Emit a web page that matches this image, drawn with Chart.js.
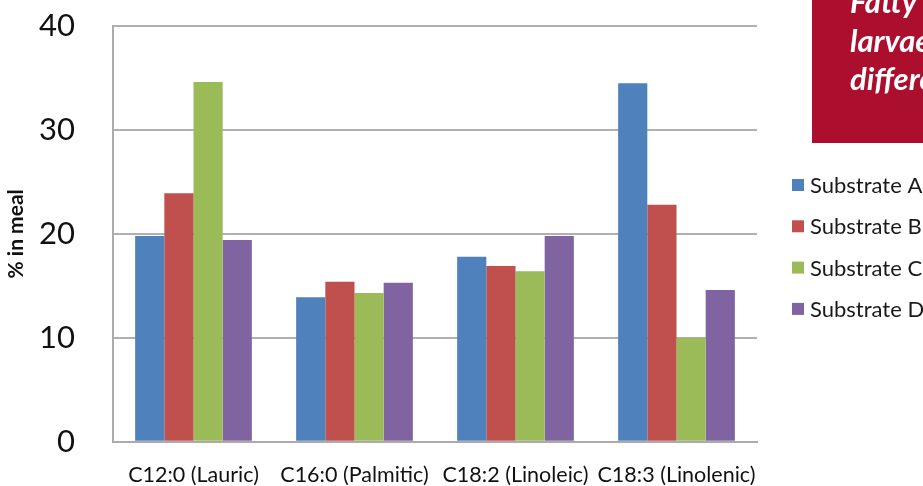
<!DOCTYPE html>
<html>
<head>
<meta charset="utf-8">
<script src="https://cdn.jsdelivr.net/npm/chart.js@4.4.0/dist/chart.umd.min.js"></script>
<style>
  html, body { margin: 0; padding: 0; background: #ffffff; }
  #wrap { width: 923px; height: 486px; position: relative; }
</style>
</head>
<body>
<div id="wrap"><canvas id="c" width="923" height="486"></canvas></div>
<script>
// Fatty acid categories and share in meal (%) per substrate
const categories = ['C12:0 (Lauric)', 'C16:0 (Palmitic)', 'C18:2 (Linoleic)', 'C18:3 (Linolenic)'];
const substrateA = [19.8, 13.9, 17.8, 34.5];
const substrateB = [23.9, 15.4, 16.9, 22.8];
const substrateC = [34.6, 14.3, 16.4, 10.0];
const substrateD = [19.4, 15.3, 19.8, 14.6];
const seriesNames = ['Substrate A', 'Substrate B', 'Substrate C', 'Substrate D'];
const yTicks = [0, 10, 20, 30, 40];
const boxLines = ['Fatty', 'larvae', 'different'];

const colors = ['#4F81BD', '#C0504D', '#9BBB59', '#8064A2'];
const FONT = 'Lato, "Open Sans", sans-serif';

const canvas = document.getElementById('c');
const ctx2d = canvas.getContext('2d');
// plain glyphs, no "ti"/"fi" ligatures
if ('textRendering' in ctx2d) ctx2d.textRendering = 'optimizeSpeed';

// Red caption panel and the series key on the right side
const sidePanel = {
  id: 'sidePanel',
  afterDraw(chart) {
    const ctx = chart.ctx;
    ctx.save();
    ctx.fillStyle = '#AC0E2E';
    ctx.fillRect(812, 0, 111, 143);
    ctx.fillStyle = '#ffffff';
    ctx.font = 'italic bold 31px ' + FONT;
    ctx.textAlign = 'left';
    ctx.textBaseline = 'alphabetic';
    boxLines.forEach((t, i) => ctx.fillText(t, 850, 13 + i * 38.5));

    ctx.font = '22px ' + FONT;
    ctx.textBaseline = 'middle';
    chart.data.datasets.forEach((ds, i) => {
      const y = 185 + i * 41.3;
      ctx.fillStyle = ds.backgroundColor;
      ctx.fillRect(792, y - 6, 12, 12);
      ctx.fillStyle = '#1a1a1a';
      ctx.fillText(ds.label, 810, y + 1);
    });
    ctx.restore();
  }
};

new Chart(canvas, {
  type: 'bar',
  data: {
    labels: categories,
    datasets: [substrateA, substrateB, substrateC, substrateD].map((d, i) => ({
      label: seriesNames[i],
      data: d,
      backgroundColor: colors[i],
      borderWidth: 0,
      categoryPercentage: 0.725,
      barPercentage: 1.0
    }))
  },
  options: {
    responsive: false,
    animation: false,
    devicePixelRatio: 1,
    layout: { padding: { top: 26, right: 166, bottom: 0, left: 0 } },
    plugins: { legend: { display: false }, tooltip: { enabled: false } },
    scales: {
      x: {
        grid: { display: false, drawTicks: false },
        border: { display: true, color: '#ababab', width: 2 },
        ticks: { color: '#111', font: { family: FONT, size: 21.5 }, padding: 20, maxRotation: 0, autoSkip: false },
        afterFit(scale) { scale.height = 44.3; }
      },
      y: {
        min: 0,
        max: 40,
        afterBuildTicks(scale) { scale.ticks = yTicks.map(v => ({ value: v })); },
        grid: { color: '#b0b0b0', lineWidth: 2, drawTicks: true, tickLength: 33, tickColor: 'rgba(0,0,0,0)' },
        border: { display: true, color: '#ababab', width: 2 },
        ticks: { color: '#111', font: { family: FONT, size: 31 }, padding: 5 },
        title: {
          display: true,
          text: '% in meal',
          color: '#111',
          font: { family: FONT, size: 21, weight: 'bold' },
          padding: { top: 4, bottom: 0 }
        },
        afterFit(scale) { scale.width = 113; }
      }
    }
  },
  plugins: [sidePanel]
});
</script>
</body>
</html>
